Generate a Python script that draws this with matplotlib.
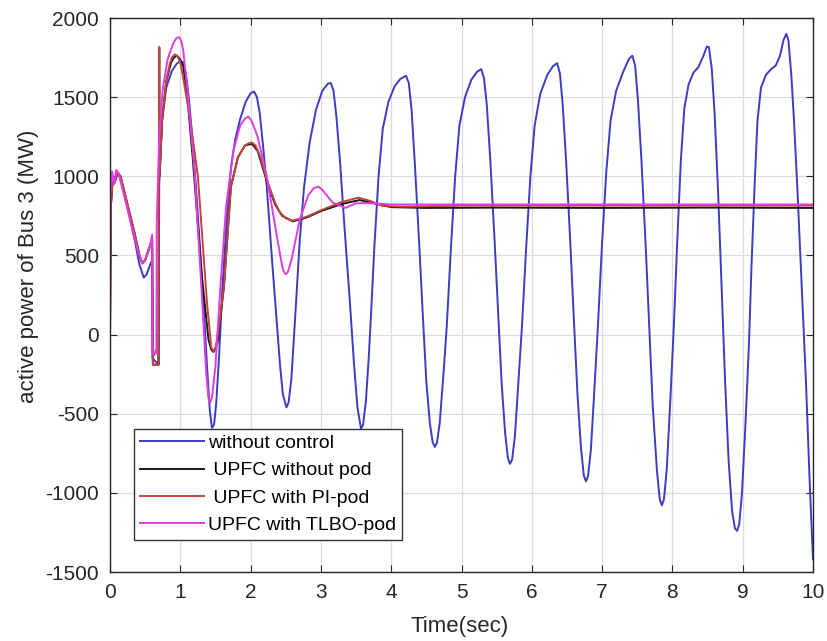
import matplotlib
matplotlib.use("Agg")
import matplotlib.pyplot as plt

plt.rcParams['font.family'] = ['Liberation Sans', 'DejaVu Sans']
plt.rcParams['axes.unicode_minus'] = False

# --- data (time in s, power in MW) ---
t_blue = [0.00, 0.01, 0.04, 0.07, 0.11, 0.15, 0.25, 0.35, 0.42, 0.48, 0.52, 0.57, 0.60,
          0.605, 0.69, 0.70, 0.74, 0.80, 0.88, 0.95, 1.00, 1.04, 1.08, 1.12, 1.16, 1.22, 1.28,
          1.33, 1.38, 1.42, 1.45, 1.48, 1.51, 1.55, 1.60, 1.66, 1.72, 1.78, 1.85, 1.93, 2.00,
          2.05, 2.09, 2.13, 2.18, 2.23, 2.30, 2.37, 2.42, 2.46, 2.51, 2.54, 2.58, 2.63, 2.70,
          2.76, 2.84, 2.93, 3.02, 3.10, 3.14, 3.18, 3.22, 3.27, 3.34, 3.41, 3.47, 3.52, 3.57,
          3.60, 3.64, 3.68, 3.71, 3.76, 3.82, 3.88, 3.96, 4.05, 4.13, 4.21, 4.25, 4.29, 4.34,
          4.40, 4.45, 4.50, 4.55, 4.59, 4.62, 4.65, 4.69, 4.74, 4.79, 4.85, 4.91, 4.97, 5.05,
          5.14, 5.22, 5.28, 5.32, 5.36, 5.41, 5.47, 5.52, 5.57, 5.62, 5.66, 5.69, 5.72, 5.76,
          5.81, 5.86, 5.92, 5.98, 6.04, 6.12, 6.22, 6.30, 6.36, 6.40, 6.44, 6.49, 6.55, 6.60,
          6.65, 6.70, 6.74, 6.77, 6.80, 6.84, 6.89, 6.94, 7.00, 7.06, 7.12, 7.20, 7.30, 7.38,
          7.43, 7.47, 7.51, 7.56, 7.62, 7.67, 7.72, 7.78, 7.82, 7.85, 7.88, 7.92, 7.97, 8.02,
          8.07, 8.12, 8.17, 8.23, 8.30, 8.37, 8.44, 8.49, 8.52, 8.56, 8.60, 8.65, 8.70, 8.75,
          8.80, 8.85, 8.89, 8.92, 8.95, 8.99, 9.04, 9.09, 9.125, 9.17, 9.21, 9.26, 9.33, 9.40,
          9.47, 9.53, 9.58, 9.62, 9.65, 9.69, 9.73, 9.78, 9.84, 9.90, 9.95, 10.00]
p_blue = [0, 800, 980, 960, 1025, 990, 800, 600, 440, 360, 380, 440, 470,
          -150, -190, 950, 1350, 1560, 1665, 1712, 1727, 1720, 1650, 1500, 1300, 950, 550,
          200, -200, -480, -590, -570, -440, -150, 300, 727, 1050, 1230, 1360, 1470, 1525,
          1535, 1500, 1400, 1180, 935, 500, 95, -200, -380, -460, -430, -280, 80, 600,
          930, 1213, 1420, 1540, 1585, 1590, 1540, 1380, 1105, 650, 220, -180, -460, -594,
          -570, -420, -150, 100, 550, 1000, 1300, 1470, 1570, 1615, 1635, 1590, 1420, 1050,
          560, 120, -300, -560, -680, -710, -685, -560, -270, 50, 550, 1000, 1320, 1500,
          1610, 1660, 1677, 1620, 1450, 1100, 600, 150, -300, -620, -780, -817, -790, -640,
          -300, 50, 550, 1000, 1320, 1520, 1640, 1695, 1715, 1650, 1450, 1080, 560, 80,
          -380, -720, -890, -927, -895, -730, -350, 50, 580, 1030, 1350, 1540, 1660, 1740,
          1762, 1700, 1480, 1100, 560, 50, -450, -860, -1040, -1079, -1040, -850, -420, 50,
          600, 1100, 1430, 1580, 1655, 1690, 1760, 1820, 1815, 1680, 1400, 900, 300, -300,
          -800, -1120, -1225, -1240, -1200, -1000, -560, -50, 433, 950, 1350, 1560, 1640, 1675,
          1700, 1760, 1860, 1899, 1860, 1650, 1350, 900, 300, -300, -900, -1420]

t_black = [0.00, 0.01, 0.04, 0.07, 0.11, 0.15, 0.25, 0.35, 0.42, 0.46, 0.50, 0.55, 0.60,
           0.61, 0.69, 0.70, 0.705, 0.74, 0.80, 0.87, 0.91, 0.95, 0.99, 1.04, 1.10, 1.18, 1.30,
           1.40, 1.44, 1.47, 1.50, 1.53, 1.62, 1.72, 1.82, 1.92, 2.02, 2.10, 2.23, 2.35, 2.45,
           2.60, 2.80, 3.00, 3.30, 3.55, 3.75, 4.00, 4.50, 5.50, 7.00, 8.50, 10.00]
p_black = [0, 800, 1000, 980, 1020, 1000, 820, 640, 500, 450, 470, 540, 600,
           -190, -190, 1815, 1000, 1350, 1600, 1720, 1750, 1762, 1745, 1700, 1500, 1100, 400,
           -30, -95, -110, -90, -50, 300, 935, 1120, 1195, 1205, 1160, 970, 820, 750,
           715, 740, 780, 825, 850, 830, 805, 800, 802, 800, 802, 800]

t_red = [0.00, 0.01, 0.04, 0.07, 0.11, 0.15, 0.25, 0.35, 0.42, 0.46, 0.50, 0.55, 0.60,
         0.61, 0.69, 0.70, 0.705, 0.74, 0.80, 0.85, 0.88, 0.92, 0.96, 1.00, 1.05, 1.15, 1.25,
         1.38, 1.44, 1.47, 1.50, 1.55, 1.62, 1.72, 1.82, 1.92, 1.97, 2.02, 2.07, 2.14, 2.23,
         2.35, 2.42, 2.50, 2.60, 2.80, 3.00, 3.27, 3.53, 3.70, 3.88, 4.20, 5.00, 6.00, 8.00, 10.00]
p_red = [0, 800, 1000, 980, 1020, 1000, 820, 640, 500, 450, 470, 540, 600,
         -190, -190, 1815, 1000, 1350, 1600, 1710, 1750, 1770, 1760, 1720, 1600, 1330, 1000,
         200, -80, -105, -85, 50, 300, 935, 1120, 1195, 1208, 1213, 1195, 1120, 980,
         830, 770, 735, 720, 745, 785, 834, 865, 845, 812, 808, 815, 815, 815, 815]

t_mag = [0.00, 0.005, 0.03, 0.06, 0.09, 0.12, 0.20, 0.30, 0.40, 0.46, 0.50, 0.56, 0.60,
         0.605, 0.63, 0.65, 0.66, 0.665, 0.70, 0.75, 0.82, 0.90, 0.94, 0.98, 1.01, 1.04, 1.10,
         1.20, 1.30, 1.37, 1.40, 1.42, 1.45, 1.50, 1.57, 1.65, 1.75, 1.85, 1.92, 1.97, 2.02,
         2.10, 2.23, 2.37, 2.45, 2.47, 2.50, 2.53, 2.58, 2.70, 2.82, 2.90, 2.96, 3.02, 3.10,
         3.17, 3.35, 3.50, 3.70, 4.00, 5.00, 7.00, 10.00]
p_mag = [0, 900, 1030, 950, 1040, 1020, 880, 700, 520, 450, 470, 540, 630,
         -110, -130, -100, -120, 700, 1250, 1550, 1740, 1840, 1870, 1880, 1860, 1800, 1550,
         1050, 300, -250, -400, -432, -400, -200, 300, 800, 1150, 1320, 1365, 1377, 1345,
         1250, 1000, 630, 430, 400, 380, 395, 470, 727, 880, 925, 935, 915, 870,
         834, 800, 830, 830, 822, 822, 822, 822]

labels = ['without control', ' UPFC without pod', ' UPFC with PI-pod', 'UPFC with TLBO-pod']
colors = ['#3c3cc8', '#1a1a1a', '#c0443c', '#e03ce0']

fig = plt.figure(figsize=(8.27, 6.41), dpi=100)
ax = fig.add_axes([110/827, 1-572/641, 703/827, 554/641])

ax.plot(t_blue, p_blue, color=colors[0], lw=1.4, label=labels[0])
ax.plot(t_black, p_black, color=colors[1], lw=1.4, label=labels[1])
ax.plot(t_red, p_red, color=colors[2], lw=1.4, label=labels[2])
ax.plot(t_mag, p_mag, color=colors[3], lw=1.4, label=labels[3])

ax.set_xlim(0, 10)
ax.set_ylim(-1500, 2000)
ax.set_xticks(range(0, 11))
ax.set_yticks(range(-1500, 2001, 500))
ax.grid(True, color='#dcdcdc', lw=0.9)
ax.set_axisbelow(True)
ax.tick_params(direction='in', top=True, right=True, labelsize=15, colors='#262626',
               length=5, pad=8)
for s in ax.spines.values():
    s.set_color('#262626')
    s.set_linewidth(1.0)

leg = ax.legend(loc='lower left', bbox_to_anchor=(0.034, 0.058), fontsize=14,
                frameon=True, fancybox=False, edgecolor='#333333', framealpha=1,
                handlelength=3.3, handletextpad=0.2, labelspacing=0.5,
                borderaxespad=0, borderpad=0.3)
leg.get_frame().set_linewidth(1.0)

fig.text(0.034, 0.585, 'active power of Bus 3 (MW)', rotation=90, ha='center', va='center',
         fontsize=16, color='#262626')
fig.text(0.556, 0.022, 'Time(sec)', ha='center', va='center', fontsize=16, color='#262626')

fig.savefig('out.png', dpi=100)
